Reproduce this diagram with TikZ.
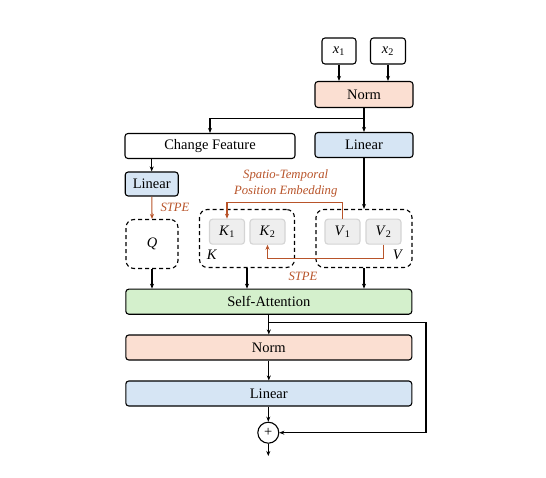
\documentclass[tikz,border=0pt]{standalone}
\usepackage{fontspec}
\setmainfont{Liberation Serif}
\usetikzlibrary{arrows.meta}
\definecolor{normfill}{HTML}{FBDFD2}
\definecolor{linfill}{HTML}{D6E5F4}
\definecolor{attfill}{HTML}{D4F0CC}
\definecolor{tokfill}{HTML}{EEEEEE}
\definecolor{tokline}{HTML}{D4D4D4}
\definecolor{stpe}{HTML}{B8542A}

\begin{document}
\begin{tikzpicture}[x=1pt, y=-1pt,
  font=\fontsize{14.5}{17}\selectfont,
  >={Stealth[length=5pt,width=4pt]},
  every path/.style={line width=1.1pt},
  block/.style={draw, rounded corners=3pt, inner sep=0pt, minimum height=25pt},
  grp/.style={draw, dashed, dash pattern=on 4pt off 3pt, rounded corners=8pt, inner sep=0pt},
  tok/.style={draw=tokline, fill=tokfill, rounded corners=3pt, inner sep=0pt,
    minimum width=35pt, minimum height=25pt},
  emb/.style={stpe, font=\fontsize{12.7}{16}\selectfont\itshape}]

\useasboundingbox (0,0) rectangle (546,478);

% inputs and first norm
\node[block, minimum width=34pt, minimum height=26pt] (x1) at (339,51) {\textit{x}\textsubscript{1}};
\node[block, minimum width=35pt, minimum height=26pt] (x2) at (388,51) {\textit{x}\textsubscript{2}};
\node[block, fill=normfill, minimum width=98pt, minimum height=26pt] (norm1) at (364,94.5) {Norm};

\node[block, minimum width=170pt] (change) at (210,146) {Change Feature};
\node[block, fill=linfill, minimum width=98pt] (lin1) at (364,145) {Linear};
\node[block, fill=linfill, minimum width=53pt, minimum height=24pt] (lin0) at (151.7,184) {Linear};

% Q, K, V groups
\node[grp, minimum width=52pt, minimum height=49pt] (qgrp) at (152,244) {\textit{Q}};
\node[grp, minimum width=95pt, minimum height=58pt] (kgrp) at (247,238.5) {};
\node[grp, minimum width=96pt, minimum height=58pt] (vgrp) at (364,238.5) {};
\node[tok] (k1) at (227,231.7) {\textit{K}\textsubscript{1}};
\node[tok] (k2) at (267.5,231.7) {\textit{K}\textsubscript{2}};
\node[tok] (v1) at (342.5,231.7) {\textit{V}\textsubscript{1}};
\node[tok] (v2) at (383.5,231.7) {\textit{V}\textsubscript{2}};
\node (klab) at (212,255) {\textit{K}};
\node (vlab) at (398,255) {\textit{V}};

% attention block and feed-forward part
\node[block, fill=attfill, minimum width=286pt] (att) at (268.8,301.7) {Self-Attention};
\node[block, fill=normfill, minimum width=286pt] (norm2) at (268.8,347.5) {Norm};
\node[block, fill=linfill, minimum width=286pt] (lin2) at (268.8,393.5) {Linear};
\node[draw, circle, minimum size=21pt, inner sep=0pt] (plus) at (268.3,432.7) {+};
\coordinate (out) at (268.3,456);
\coordinate (split) at (364,118.3);
\coordinate (res) at (426,322.7);

% labels
\node[emb] (stpeq) at (175,207) {STPE};
\node[emb, align=center] (steLab) at (285.7,183.7) {Spatio-Temporal\\Position Embedding};
\node[emb] (stpek) at (303,276) {STPE};

% connectors
\draw[->] (x1) -- (x1 |- norm1.north);
\draw[->] (x2) -- (x2 |- norm1.north);
\draw[->] (norm1) -- (lin1);
\draw[->] (split) -| (change.north);
\draw[->] (change.south -| lin0) -- (lin0.north);
\draw[->] (lin1) -- (vgrp.north);
\draw[->, stpe] (lin0) -- (qgrp.north);
\draw[->, stpe] (v1.north) -- ++(0,-16) -| (k1.north);
\draw[->, stpe] (v2.south) -- ++(0,14) -| (k2.south);

\draw[->] (qgrp) -- (qgrp |- att.north);
\draw[->] (kgrp) -- (kgrp |- att.north);
\draw[->] (vgrp) -- (vgrp |- att.north);
\draw[->] (att.south -| norm2) -- (norm2.north);
\draw[->] (norm2) -- (lin2);
\draw[->] (lin2.south -| plus) -- (plus.north);
\draw[->] (plus) -- (out);
\draw[->] (att.south |- res) -- (res) |- (plus.east);

\end{tikzpicture}
\end{document}
